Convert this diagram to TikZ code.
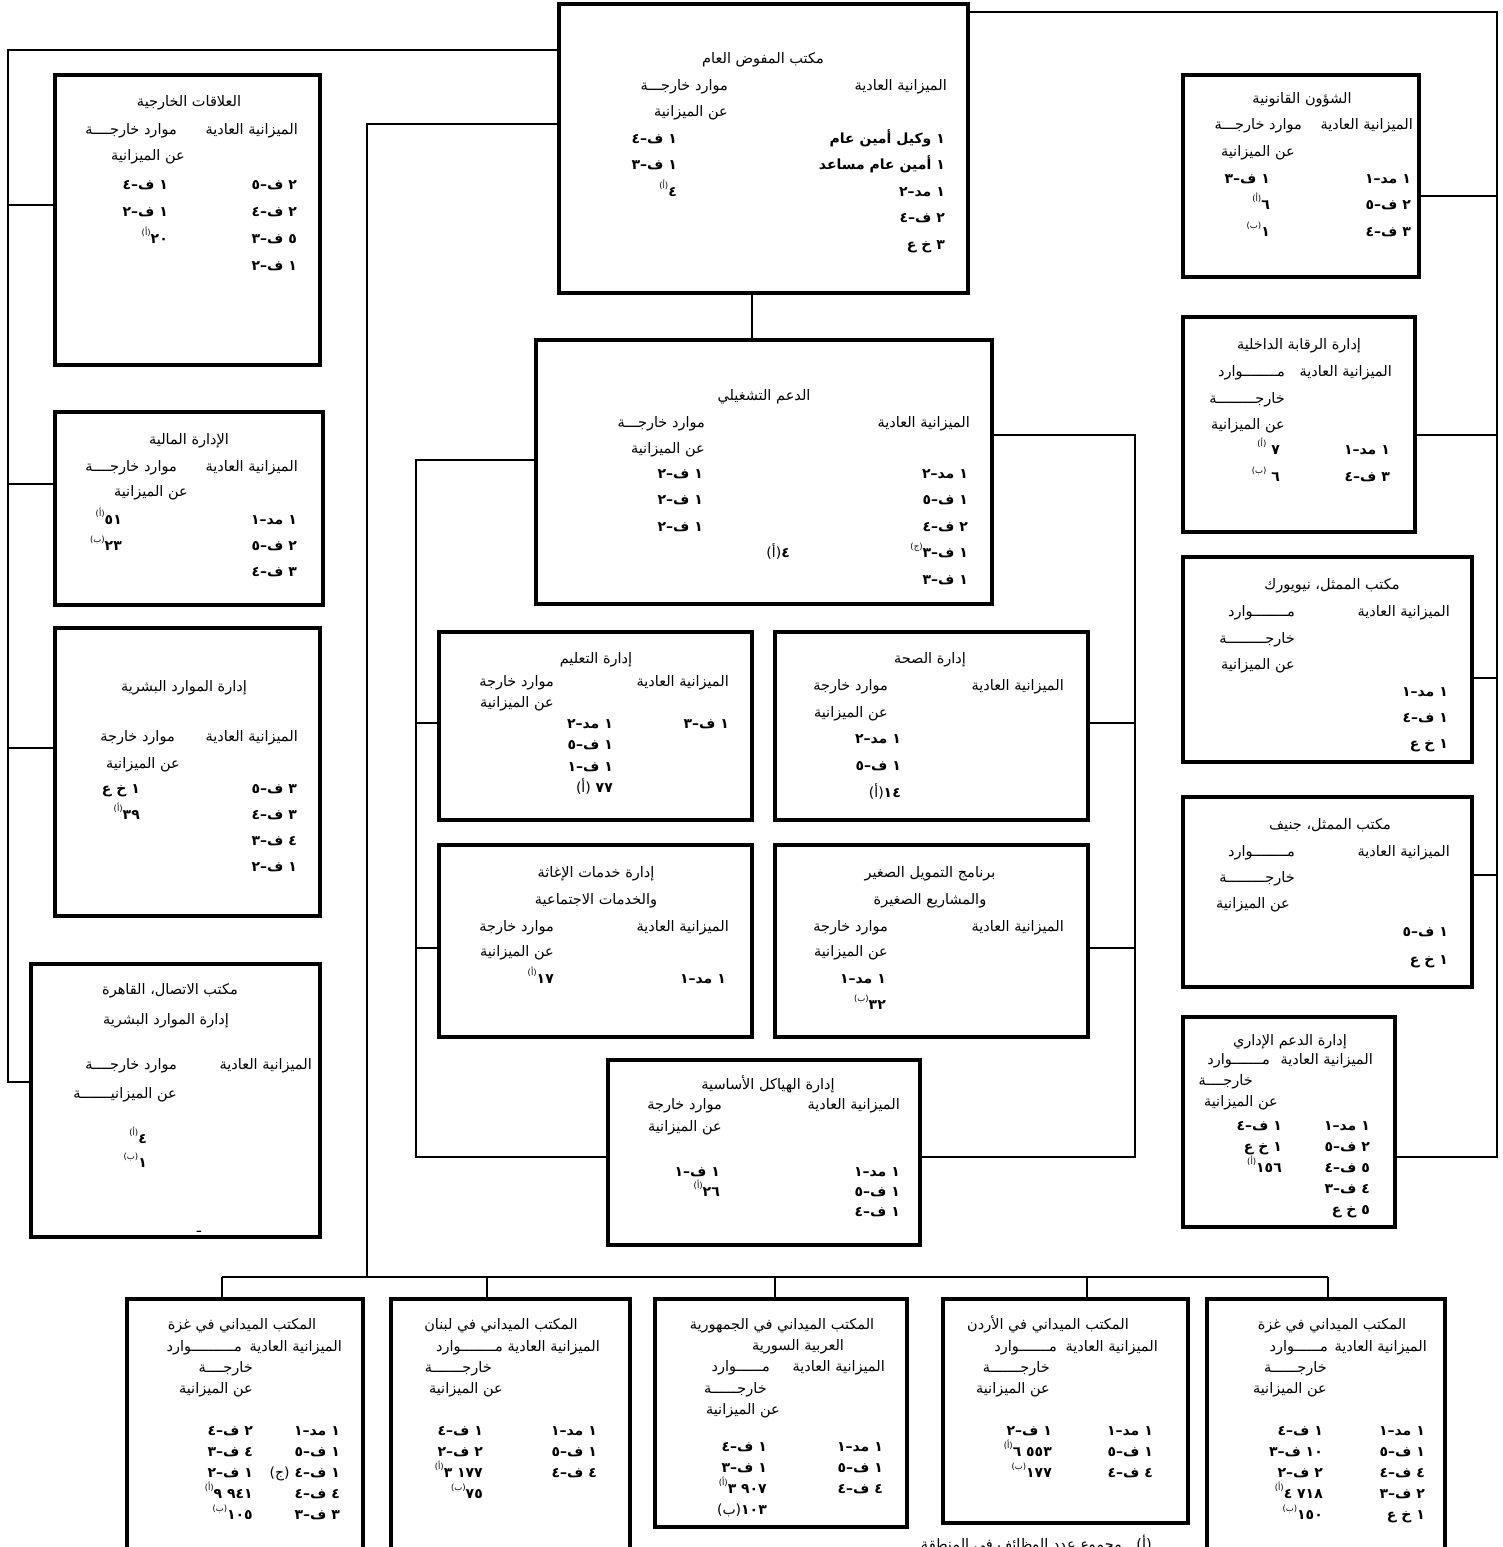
\documentclass[tikz,border=0pt]{standalone}
\usepackage{fontspec}
\TeXXeTstate=1
\newfontfamily\ar[Script=Arabic]{DejaVu Sans}
\newcommand\R[1]{{\ar #1}}
\newcommand\sps[1]{\raisebox{1ex}{\fontsize{8.5}{8.5}\selectfont\mdseries #1}}
\newcounter{tn}
\newcommand\fsz{\fontsize{14.5}{16}\selectfont}
\newcommand\bsz{\fontsize{14}{16}\selectfont\bfseries}
\tikzset{
  bx/.style={draw, line width=3.5pt, inner sep=0pt, fill=white},
  ln/.style={line width=1.4pt},
  rt/.style={anchor=base east, inner sep=0pt, yshift=-6pt, font=\fsz},
  ct/.style={anchor=base, inner sep=0pt, yshift=-6pt, font=\fsz},
  bfont/.style={font=\bsz}
}
\newcommand\bx[5]{\node[bx, minimum width={#4-#2}, minimum height={#5-#3}] (#1) at ({(#2+#4)/2},{(#3+#5)/2}) {};}
\newcommand\RT[3]{\stepcounter{tn}\node[rt] (t\thetn) at (#1,#2) {\R{#3}};}
\newcommand\CT[3]{\stepcounter{tn}\node[ct] (t\thetn) at (#1,#2) {\R{#3}};}
\newcommand\BC[4]{\foreach \s [count=\i from 0] in {#4}{\stepcounter{tn}\node[rt,bfont] (t\thetn) at (#1,{#2+\i*#3}) {\R{\s}};}}
\begin{document}
\begin{tikzpicture}[x=1pt,y=-1pt]
\fill[white] (0,0) rectangle (1502,1547);
\useasboundingbox (0,0) rectangle (1502,1547);
% connector coordinates
\coordinate (rt0) at (1497,12);
\coordinate (rb1) at (1497,196);
\coordinate (rb2) at (1497,435);
\coordinate (rb3) at (1497,678);
\coordinate (rb4) at (1497,875);
\coordinate (rt9) at (1497,1157);
\coordinate (lt0) at (8,50);
\coordinate (lb1) at (8,205);
\coordinate (lb2) at (8,484);
\coordinate (lb3) at (8,748);
\coordinate (lt9) at (8,1082);
\coordinate (bt0) at (367,124);
\coordinate (bt1) at (367,1277);
\coordinate (bus1) at (222,1277);
\coordinate (bus2) at (487,1277);
\coordinate (bus3) at (775,1277);
\coordinate (bus4) at (1087,1277);
\coordinate (bus5) at (1328,1277);
\coordinate (oc) at (752,300);
\coordinate (or0) at (1135,435);
\coordinate (or1) at (1135,723);
\coordinate (or2) at (1135,948);
\coordinate (or9) at (1135,1157);
\coordinate (ol0) at (416,460);
\coordinate (ol1) at (416,723);
\coordinate (ol2) at (416,948);
\coordinate (ol9) at (416,1157);
% boxes
\bx{top}{559}{4}{968}{293}
\bx{ext}{55}{75}{320}{365}
\bx{fin}{55}{412}{323}{605}
\bx{hr}{55}{628}{320}{916}
\bx{cairo}{31}{964}{320}{1237}
\bx{legal}{1183}{75}{1419}{277}
\bx{audit}{1183}{317}{1415}{532}
\bx{ny}{1183}{557}{1472}{762}
\bx{gen}{1183}{797}{1472}{987}
\bx{adm}{1183}{1017}{1395}{1227}
\bx{ops}{536}{340}{992}{604}
\bx{edu}{439}{632}{752}{820}
\bx{health}{775}{632}{1088}{820}
\bx{relief}{439}{845}{752}{1037}
\bx{micro}{775}{845}{1088}{1037}
\bx{infra}{608}{1060}{920}{1245}
\bx{gza}{127}{1299}{363}{1570}
\bx{leb}{391}{1299}{630}{1570}
\bx{syr}{655}{1299}{907}{1527}
\bx{jor}{943}{1299}{1188}{1523}
\bx{gzb}{1207}{1299}{1445}{1570}
% connectors
\draw[ln] (top.east |- rt0) -- (rt0) -- (rt9) -- (adm.east |- rt9);
\foreach \b/\c in {legal/rb1, audit/rb2, ny/rb3, gen/rb4} \draw[ln] (\b.east |- \c) -- (\c);
\draw[ln] (top.west |- lt0) -- (lt0) -- (lt9) -- (cairo.west |- lt9);
\foreach \b/\c in {ext/lb1, fin/lb2, hr/lb3} \draw[ln] (\b.west |- \c) -- (\c);
\draw[ln] (top.west |- bt0) -- (bt0) -- (bt1);
\draw[ln] (bus1) -- (bus5);
\foreach \b/\c in {gza/bus1, leb/bus2, syr/bus3, jor/bus4, gzb/bus5} \draw[ln] (\c) -- (\b.north -| \c);
\draw[ln] (top.south -| oc) -- (ops.north -| oc);
\draw[ln] (ops.east |- or0) -- (or0) -- (or9) -- (infra.east |- or9);
\foreach \b/\c in {health/or1, micro/or2} \draw[ln] (\b.east |- \c) -- (\c);
\draw[ln] (ops.west |- ol0) -- (ol0) -- (ol9) -- (infra.west |- ol9);
\foreach \b/\c in {edu/ol1, relief/ol2} \draw[ln] (\b.west |- \c) -- (\c);
% ---- top
\CT{763}{57}{\beginR مكتب المفوض العام\endR}
\RT{947}{84}{\beginR الميزانية العادية\endR}
\RT{728}{84}{\beginR موارد خارجـــة\endR}
\RT{728}{110}{\beginR عن الميزانية\endR}
\BC{945}{137}{26.5}{\beginR ١ وكيل أمين عام\endR,\beginR ١ أمين عام مساعد\endR,\beginR ١ مد–٢\endR,\beginR ٢ ف–٤\endR,\beginR ٣ خ ع\endR}
\BC{677}{137}{26.5}{\beginR ١ ف–٤\endR,\beginR ١ ف–٣\endR,\beginR ٤\sps{(أ)}\endR}
% ---- ext
\CT{189}{100}{\beginR العلاقات الخارجية\endR}
\RT{298}{128}{\beginR الميزانية العادية\endR}
\RT{177}{128}{\beginR موارد خارجــــة\endR}
\RT{185}{154}{\beginR عن الميزانية\endR}
\BC{297}{183}{27}{\beginR ٢ ف–٥\endR,\beginR ٢ ف–٤\endR,\beginR ٥ ف–٣\endR,\beginR ١ ف–٢\endR}
\BC{168}{183}{27}{\beginR ١ ف–٤\endR,\beginR ١ ف–٢\endR,\beginR ٢٠\sps{(أ)}\endR}
% ---- fin
\CT{189}{438}{\beginR الإدارة المالية\endR}
\RT{298}{465}{\beginR الميزانية العادية\endR}
\RT{177}{465}{\beginR موارد خارجــــة\endR}
\RT{188}{490}{\beginR عن الميزانية\endR}
\BC{297}{518}{26}{\beginR ١ مد–١\endR,\beginR ٢ ف–٥\endR,\beginR ٣ ف–٤\endR}
\BC{122}{518}{26}{\beginR ٥١\sps{(أ)}\endR,\beginR ٢٣\sps{(ب)}\endR}
% ---- hr
\CT{184}{685}{\beginR إدارة الموارد البشرية\endR}
\RT{298}{735}{\beginR الميزانية العادية\endR}
\RT{175}{735}{\beginR موارد خارجة\endR}
\RT{180}{762}{\beginR عن الميزانية\endR}
\BC{297}{787}{26}{\beginR ٣ ف–٥\endR,\beginR ٣ ف–٤\endR,\beginR ٤ ف–٣\endR,\beginR ١ ف–٢\endR}
\BC{140}{787}{26}{\beginR ١ خ ع\endR,\beginR ٣٩\sps{(أ)}\endR}
% ---- cairo
\CT{170}{988}{\beginR مكتب الاتصال، القاهرة\endR}
\CT{166}{1018}{\beginR إدارة الموارد البشرية\endR}
\RT{312}{1063}{\beginR الميزانية العادية\endR}
\RT{177}{1063}{\beginR موارد خارجــــة\endR}
\RT{177}{1092}{\beginR عن الميزانيـــــــة\endR}
\BC{147}{1137}{24}{\beginR ٤\sps{(أ)}\endR,\beginR ١\sps{(ب)}\endR}
\CT{199}{1226}{ـ}
% ---- legal
\CT{1302}{97}{\beginR الشؤون القانونية\endR}
\RT{1413}{123}{\beginR الميزانية العادية\endR}
\RT{1302}{123}{\beginR موارد خارجـــة\endR}
\RT{1295}{150}{\beginR عن الميزانية\endR}
\BC{1411}{177}{26.5}{\beginR ١ مد–١\endR,\beginR ٢ ف–٥\endR,\beginR ٣ ف–٤\endR}
\BC{1270}{177}{26.5}{\beginR ١ ف–٣\endR,\beginR ٦\sps{(أ)}\endR,\beginR ١\sps{(ب)}\endR}
% ---- audit
\CT{1299}{343}{\beginR إدارة الرقابة الداخلية\endR}
\RT{1392}{370}{\beginR الميزانية العادية\endR}
\RT{1285}{370}{مــــــــوارد}
\RT{1285}{397}{خارجـــــــــة}
\RT{1285}{423}{\beginR عن الميزانية\endR}
\BC{1390}{448}{27}{\beginR ١ مد–١\endR,\beginR ٣ ف–٤\endR}
\BC{1280}{448}{27}{\beginR ٧ \sps{(أ)}\endR,\beginR ٦ \sps{(ب)}\endR}
% ---- ny
\CT{1332}{583}{\beginR مكتب الممثل، نيويورك\endR}
\RT{1450}{610}{\beginR الميزانية العادية\endR}
\RT{1295}{610}{مــــــــوارد}
\RT{1295}{637}{خارجـــــــــة}
\RT{1295}{663}{\beginR عن الميزانية\endR}
\BC{1448}{690}{26}{\beginR ١ مد–١\endR,\beginR ١ ف–٤\endR,\beginR ١ خ ع\endR}
% ---- geneva
\CT{1330}{823}{\beginR مكتب الممثل، جنيف\endR}
\RT{1450}{850}{\beginR الميزانية العادية\endR}
\RT{1295}{850}{مــــــــوارد}
\RT{1295}{876}{خارجـــــــــة}
\RT{1290}{902}{\beginR عن الميزانية\endR}
\BC{1448}{930}{28}{\beginR ١ ف–٥\endR,\beginR ١ خ ع\endR}
% ---- admin
\CT{1290}{1039}{\beginR إدارة الدعم الإداري\endR}
\RT{1373}{1058}{\beginR الميزانية العادية\endR}
\RT{1270}{1058}{مـــــــوارد}
\RT{1253}{1079}{خارجــــة}
\RT{1278}{1100}{\beginR عن الميزانية\endR}
\BC{1370}{1124}{21}{\beginR ١ مد–١\endR,\beginR ٢ ف–٥\endR,\beginR ٥ ف–٤\endR,\beginR ٤ ف–٣\endR,\beginR ٥ خ ع\endR}
\BC{1282}{1124}{21}{\beginR ١ ف–٤\endR,\beginR ١ خ ع\endR,\beginR ١٥٦\sps{(أ)}\endR}
% ---- ops
\CT{764}{394}{\beginR الدعم التشغيلي\endR}
\RT{970}{421}{\beginR الميزانية العادية\endR}
\RT{705}{421}{\beginR موارد خارجـــة\endR}
\RT{705}{447}{\beginR عن الميزانية\endR}
\BC{968}{472}{26.5}{\beginR ١ مد–٢\endR,\beginR ١ ف–٥\endR,\beginR ٢ ف–٤\endR,\beginR ١ ف–٣\sps{(ج)}\endR,\beginR ١ ف–٣\endR}
\BC{703}{472}{26.5}{\beginR ١ ف–٢\endR,\beginR ١ ف–٢\endR,\beginR ١ ف–٢\endR}
\BC{790}{551}{0}{\beginR ٤{\mdseries(أ)}\endR}
% ---- edu
\CT{596}{657}{\beginR إدارة التعليم\endR}
\RT{729}{680}{\beginR الميزانية العادية\endR}
\RT{554}{680}{\beginR موارد خارجة\endR}
\RT{554}{701}{\beginR عن الميزانية\endR}
\BC{729}{722}{0}{\beginR ١ ف–٣\endR}
\BC{613}{722}{21.5}{\beginR ١ مد–٢\endR,\beginR ١ ف–٥\endR,\beginR ١ ف–١\endR,\beginR ٧٧ {\mdseries(أ)}\endR}
% ---- health
\CT{930}{657}{\beginR إدارة الصحة\endR}
\RT{1064}{684}{\beginR الميزانية العادية\endR}
\RT{888}{684}{\beginR موارد خارجة\endR}
\RT{888}{711}{\beginR عن الميزانية\endR}
\BC{901}{737}{27}{\beginR ١ مد–٢\endR,\beginR ١ ف–٥\endR,\beginR ١٤{\mdseries(أ)}\endR}
% ---- relief
\CT{596}{871}{\beginR إدارة خدمات الإغاثة\endR}
\CT{596}{898}{\beginR والخدمات الاجتماعية\endR}
\RT{729}{925}{\beginR الميزانية العادية\endR}
\RT{554}{925}{\beginR موارد خارجة\endR}
\RT{554}{950}{\beginR عن الميزانية\endR}
\BC{726}{977}{0}{\beginR ١ مد–١\endR}
\BC{554}{977}{0}{\beginR ١٧\sps{(أ)}\endR}
% ---- micro
\CT{930}{871}{\beginR برنامج التمويل الصغير\endR}
\CT{930}{898}{\beginR والمشاريع الصغيرة\endR}
\RT{1064}{925}{\beginR الميزانية العادية\endR}
\RT{888}{925}{\beginR موارد خارجة\endR}
\RT{888}{950}{\beginR عن الميزانية\endR}
\BC{886}{977}{26}{\beginR ١ مد–١\endR,\beginR ٣٢\sps{(ب)}\endR}
% ---- infra
\CT{768}{1083}{\beginR إدارة الهياكل الأساسية\endR}
\RT{900}{1103}{\beginR الميزانية العادية\endR}
\RT{722}{1103}{\beginR موارد خارجة\endR}
\RT{722}{1125}{\beginR عن الميزانية\endR}
\BC{900}{1170}{20}{\beginR ١ مد–١\endR,\beginR ١ ف–٥\endR,\beginR ١ ف–٤\endR}
\BC{720}{1170}{20}{\beginR ١ ف–١\endR,\beginR ٢٦\sps{(أ)}\endR}
% ---- gaza left
\CT{242}{1323}{\beginR المكتب الميداني في غزة\endR}
\RT{342}{1345}{\beginR الميزانية العادية\endR}
\RT{242}{1345}{مــــــــــوارد}
\RT{253}{1366}{خارجــــة}
\RT{253}{1387}{\beginR عن الميزانية\endR}
\BC{340}{1429}{21}{\beginR ١ مد–١\endR,\beginR ١ ف–٥\endR,\beginR ١ ف–٤ {\mdseries(ج)}\endR,\beginR ٤ ف–٤\endR,\beginR ٣ ف–٣\endR}
\BC{253}{1429}{21}{\beginR ٢ ف–٤\endR,\beginR ٤ ف–٣\endR,\beginR ١ ف–٢\endR,\beginR\beginL ٩ ٩٤١\endL{}\sps{(أ)}\endR,\beginR ١٠٥\sps{(ب)}\endR}
% ---- lebanon
\CT{501}{1323}{\beginR المكتب الميداني في لبنان\endR}
\RT{600}{1345}{\beginR الميزانية العادية\endR}
\RT{503}{1345}{مــــــــوارد}
\RT{492}{1366}{خارجـــــــة}
\RT{503}{1387}{\beginR عن الميزانية\endR}
\BC{597}{1429}{21}{\beginR ١ مد–١\endR,\beginR ١ ف–٥\endR,\beginR ٤ ف–٤\endR}
\BC{483}{1429}{21}{\beginR ١ ف–٤\endR,\beginR ٢ ف–٢\endR,\beginR\beginL ٣ ١٧٧\endL{}\sps{(أ)}\endR,\beginR ٧٥\sps{(ب)}\endR}
% ---- syria
\CT{782}{1323}{\beginR المكتب الميداني في الجمهورية\endR}
\CT{798}{1344}{\beginR العربية السورية\endR}
\RT{885}{1365}{\beginR الميزانية العادية\endR}
\RT{770}{1365}{مــــــوارد}
\RT{767}{1387}{خارجــــــة}
\RT{780}{1408}{\beginR عن الميزانية\endR}
\BC{883}{1445}{21}{\beginR ١ مد–١\endR,\beginR ١ ف–٥\endR,\beginR ٤ ف–٤\endR}
\BC{767}{1445}{21}{\beginR ١ ف–٤\endR,\beginR ١ ف–٣\endR,\beginR\beginL ٣ ٩٠٧\endL{}\sps{(أ)}\endR,\beginR ١٠٣{\mdseries(ب)}\endR}
% ---- jordan
\CT{1048}{1323}{\beginR المكتب الميداني في الأردن\endR}
\RT{1158}{1345}{\beginR الميزانية العادية\endR}
\RT{1057}{1345}{مـــــــوارد}
\RT{1050}{1366}{خارجـــــــة}
\RT{1050}{1387}{\beginR عن الميزانية\endR}
\BC{1153}{1429}{21}{\beginR ١ مد–١\endR,\beginR ١ ف–٥\endR,\beginR ٤ ف–٤\endR}
\BC{1052}{1429}{21}{\beginR ١ ف–٢\endR,\beginR\beginL ٦ ٥٥٣\endL{}\sps{(أ)}\endR,\beginR ١٧٧\sps{(ب)}\endR}
% ---- gaza right
\CT{1332}{1323}{\beginR المكتب الميداني في غزة\endR}
\RT{1427}{1345}{\beginR الميزانية العادية\endR}
\RT{1328}{1345}{مــــــوارد}
\RT{1327}{1366}{خارجــــــة}
\RT{1327}{1387}{\beginR عن الميزانية\endR}
\BC{1425}{1429}{21}{\beginR ١ مد–١\endR,\beginR ١ ف–٥\endR,\beginR ٤ ف–٤\endR,\beginR ٢ ف–٣\endR,\beginR ١ خ ع\endR}
\BC{1323}{1429}{21}{\beginR ١ ف–٤\endR,\beginR ١٠ ف–٣\endR,\beginR ٢ ف–٢\endR,\beginR\beginL ٤ ٧١٨\endL{}\sps{(أ)}\endR,\beginR ١٥٠\sps{(ب)}\endR}
% ---- footnote
\RT{1152}{1543}{\beginR (أ)\quad مجموع عدد الوظائف في المنطقة\endR}
\end{tikzpicture}
\end{document}
